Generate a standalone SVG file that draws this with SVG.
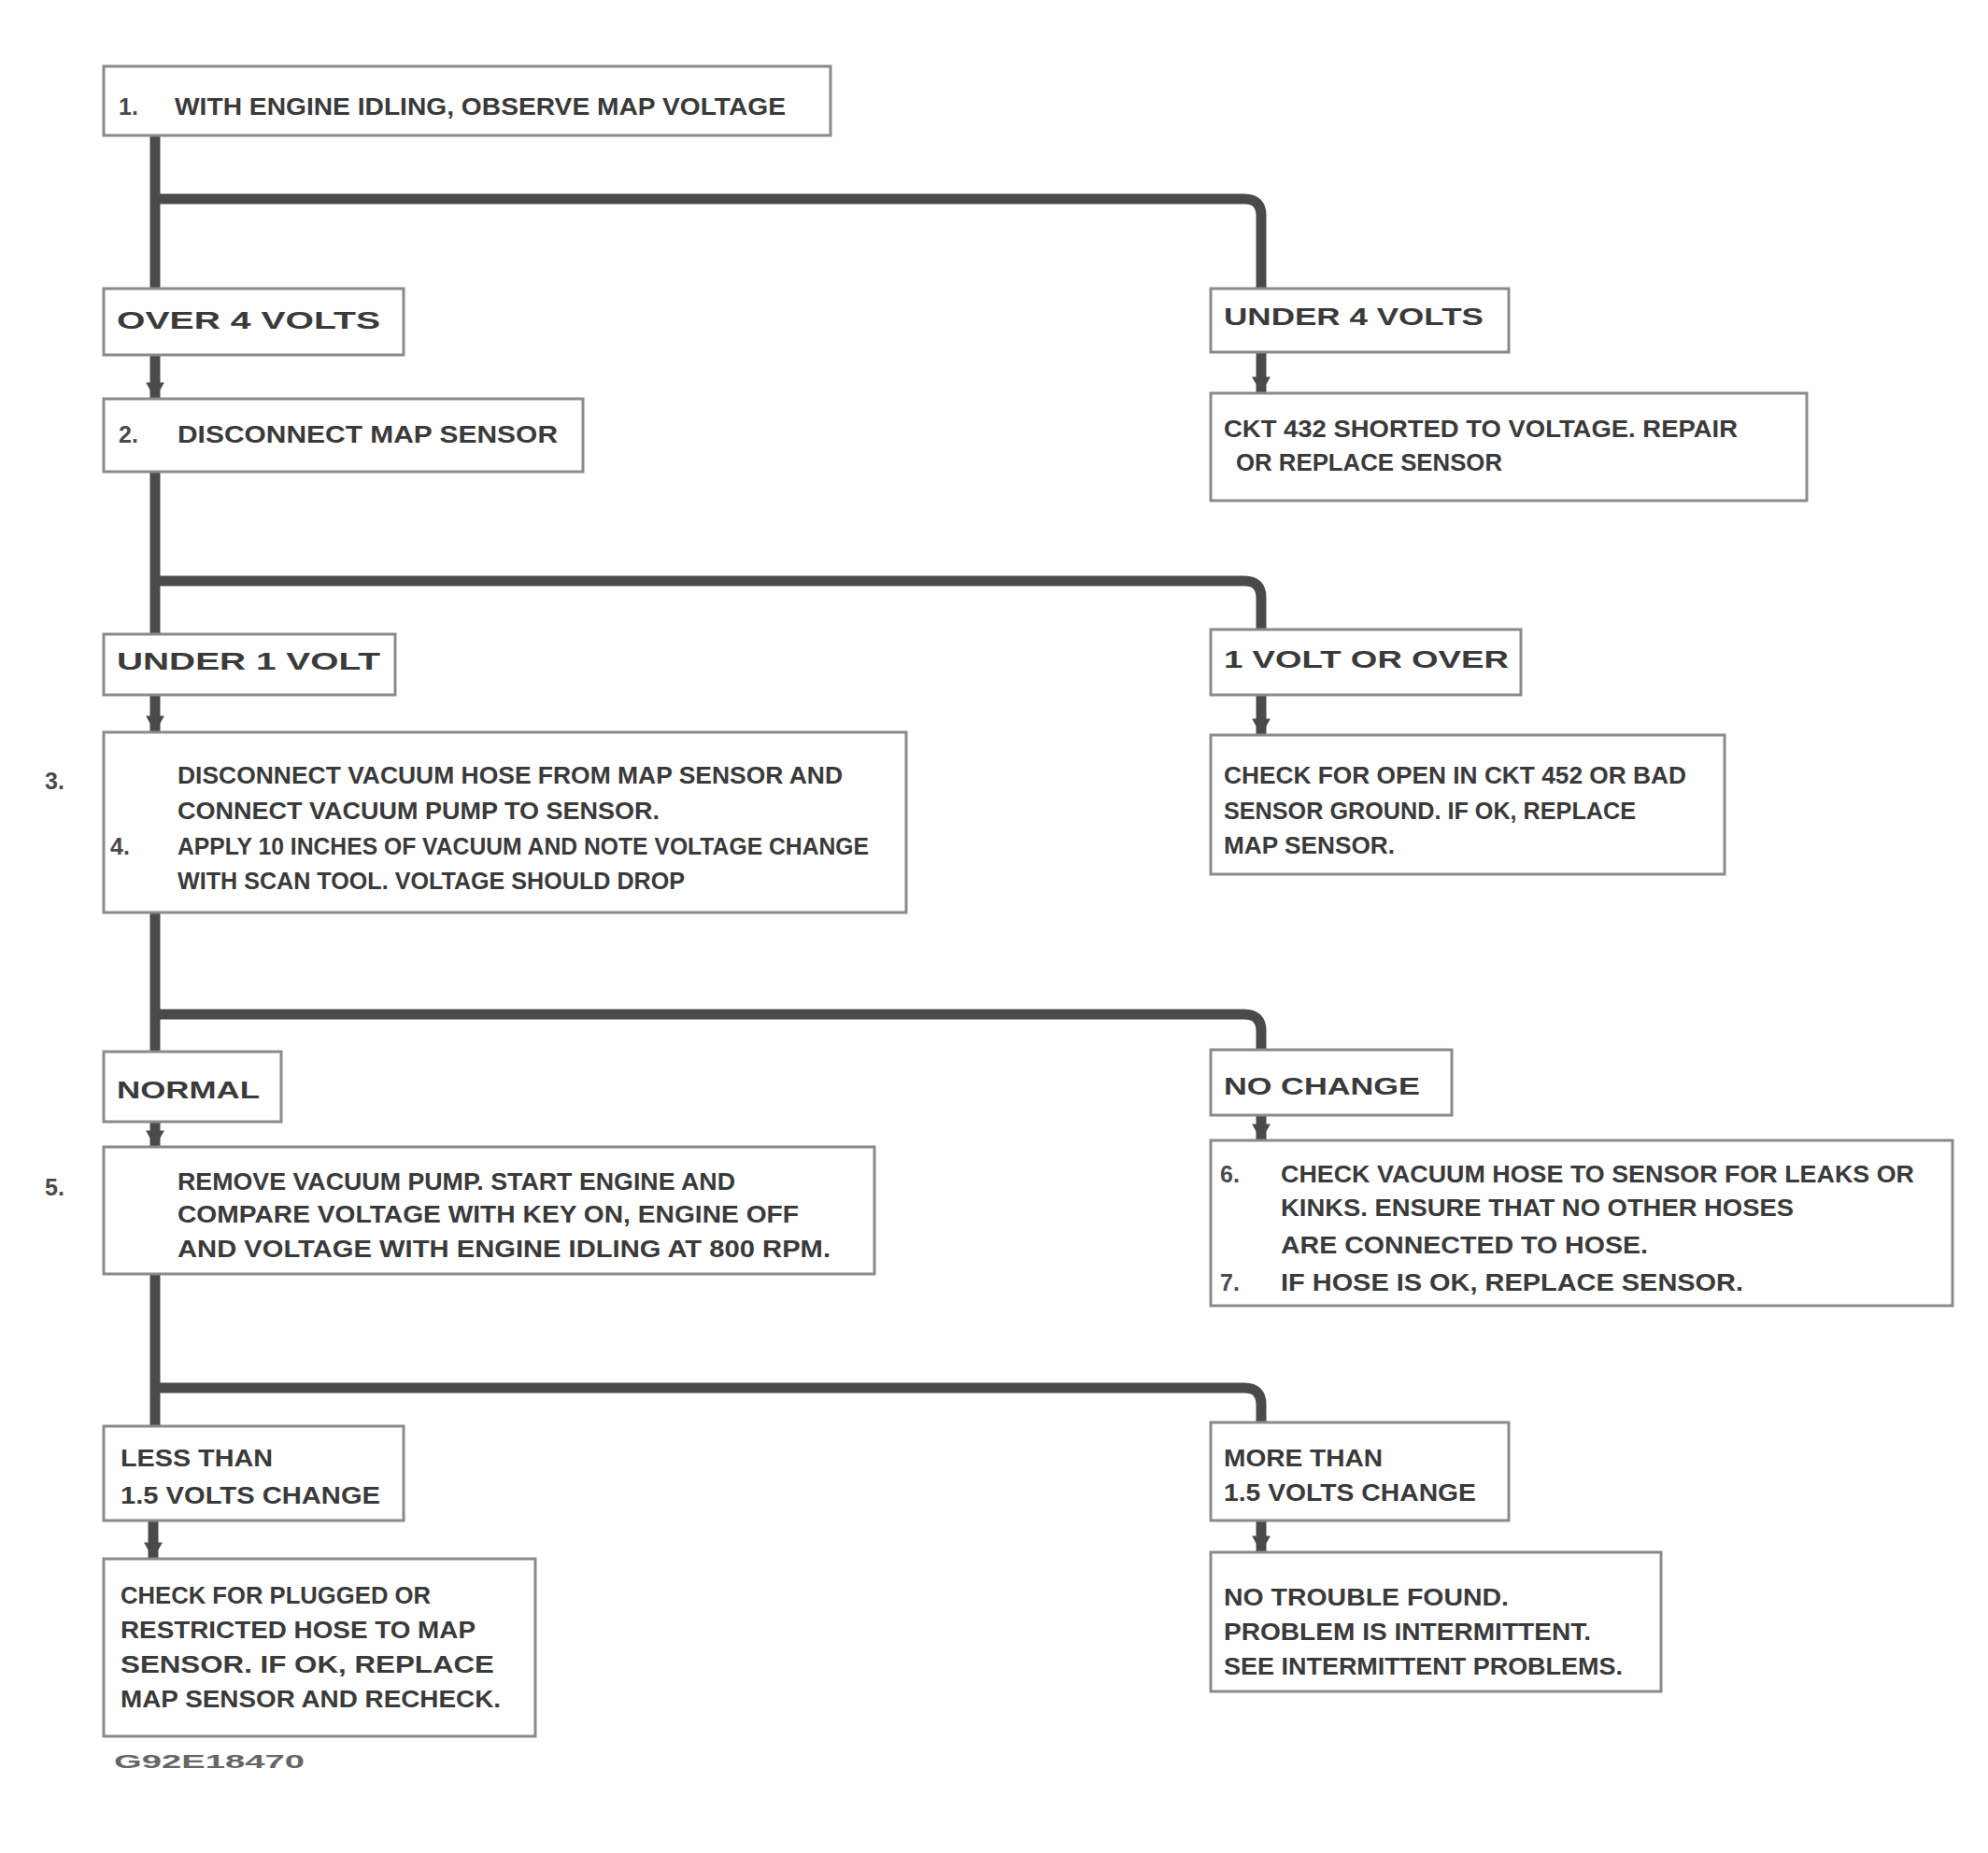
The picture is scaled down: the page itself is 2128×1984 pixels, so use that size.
<svg xmlns="http://www.w3.org/2000/svg" width="2128" height="1984" viewBox="0 0 2128 1984">
<defs>
<style>
.box{fill:none;stroke:#8a8a8a;stroke-width:3}
.t{font-family:"Liberation Sans",Arial,sans-serif;font-weight:bold;font-size:25px;fill:#3a3a3a}
.n{font-family:"Liberation Sans",Arial,sans-serif;font-weight:bold;font-size:25px;fill:#4a4a4a}
.c{fill:none;stroke:#4a4a4a;stroke-width:11;stroke-linejoin:round}
.a{fill:none;stroke:#4a4a4a;stroke-width:11}
.f{font-family:"Liberation Sans",Arial,sans-serif;font-weight:bold;font-size:20px;fill:#666}
</style>
<marker id="ah" markerWidth="1.6" markerHeight="1.8" refX="1.6" refY="0.9" orient="auto" markerUnits="strokeWidth"><path d="M0,0 L1.6,0.9 L0,1.8 Z" fill="#4a4a4a"/></marker>
</defs>
<rect width="2128" height="1984" fill="#ffffff"/>
<g id="connectors">
<path class="c" d="M166,145 V309"/>
<path class="c" d="M166,213 H1332 Q1350,213 1350,231 V309"/>
<path class="a" d="M166,381 V427" marker-end="url(#ah)"/>
<path class="a" d="M1350,378 V421" marker-end="url(#ah)"/>
<path class="c" d="M166,505 V679"/>
<path class="c" d="M166,622 H1332 Q1350,622 1350,640 V674"/>
<path class="a" d="M166,745 V784" marker-end="url(#ah)"/>
<path class="a" d="M1350,745 V787" marker-end="url(#ah)"/>
<path class="c" d="M166,977 V1126"/>
<path class="c" d="M166,1086 H1332 Q1350,1086 1350,1104 V1124"/>
<path class="a" d="M166,1202 V1228" marker-end="url(#ah)"/>
<path class="a" d="M1350,1195 V1221" marker-end="url(#ah)"/>
<path class="c" d="M166,1364 V1527"/>
<path class="c" d="M166,1486 H1332 Q1350,1486 1350,1504 V1523"/>
<path class="a" d="M164,1629 V1669" marker-end="url(#ah)"/>
<path class="a" d="M1350,1629 V1662" marker-end="url(#ah)"/>
</g>
<g id="n1"><rect class="box" x="111" y="71" width="778" height="74"/>
<text class="n" x="127" y="123">1.</text>
<text class="t" x="187" y="123" textLength="654" lengthAdjust="spacingAndGlyphs">WITH ENGINE IDLING, OBSERVE MAP VOLTAGE</text></g>
<g id="nA"><rect class="box" x="111" y="309" width="321" height="71"/>
<text class="t" x="125" y="352" textLength="282" lengthAdjust="spacingAndGlyphs">OVER 4 VOLTS</text></g>
<g id="nB"><rect class="box" x="1296" y="309" width="319" height="68"/>
<text class="t" x="1310" y="348" textLength="278" lengthAdjust="spacingAndGlyphs">UNDER 4 VOLTS</text></g>
<g id="nC"><rect class="box" x="111" y="427" width="513" height="78"/>
<text class="n" x="127" y="474">2.</text>
<text class="t" x="190" y="474" textLength="407" lengthAdjust="spacingAndGlyphs">DISCONNECT MAP SENSOR</text></g>
<g id="nD"><rect class="box" x="1296" y="421" width="638" height="115"/>
<text class="t" x="1310" y="468" textLength="550" lengthAdjust="spacingAndGlyphs">CKT 432 SHORTED TO VOLTAGE. REPAIR</text>
<text class="t" x="1323" y="504" textLength="285" lengthAdjust="spacingAndGlyphs">OR REPLACE SENSOR</text></g>
<g id="nE"><rect class="box" x="111" y="679" width="312" height="65"/>
<text class="t" x="125" y="717" textLength="282" lengthAdjust="spacingAndGlyphs">UNDER 1 VOLT</text></g>
<g id="nF"><rect class="box" x="1296" y="674" width="332" height="70"/>
<text class="t" x="1310" y="715" textLength="305" lengthAdjust="spacingAndGlyphs">1 VOLT OR OVER</text></g>
<g id="nG"><rect class="box" x="111" y="784" width="859" height="193"/>
<text class="n" x="48" y="845" font-size="30">3.</text>
<text class="n" x="118" y="915">4.</text>
<text class="t" x="190" y="839" textLength="712" lengthAdjust="spacingAndGlyphs">DISCONNECT VACUUM HOSE FROM MAP SENSOR AND</text>
<text class="t" x="190" y="877" textLength="516" lengthAdjust="spacingAndGlyphs">CONNECT VACUUM PUMP TO SENSOR.</text>
<text class="t" x="190" y="915" textLength="740" lengthAdjust="spacingAndGlyphs">APPLY 10 INCHES OF VACUUM AND NOTE VOLTAGE CHANGE</text>
<text class="t" x="190" y="952" textLength="543" lengthAdjust="spacingAndGlyphs">WITH SCAN TOOL. VOLTAGE SHOULD DROP</text></g>
<g id="nH"><rect class="box" x="1296" y="787" width="550" height="149"/>
<text class="t" x="1310" y="839" textLength="495" lengthAdjust="spacingAndGlyphs">CHECK FOR OPEN IN CKT 452 OR BAD</text>
<text class="t" x="1310" y="877" textLength="441" lengthAdjust="spacingAndGlyphs">SENSOR GROUND. IF OK, REPLACE</text>
<text class="t" x="1310" y="914" textLength="183" lengthAdjust="spacingAndGlyphs">MAP SENSOR.</text></g>
<g id="nI"><rect class="box" x="111" y="1126" width="190" height="75"/>
<text class="t" x="125" y="1176" textLength="153" lengthAdjust="spacingAndGlyphs">NORMAL</text></g>
<g id="nJ"><rect class="box" x="1296" y="1124" width="258" height="70"/>
<text class="t" x="1310" y="1172" textLength="210" lengthAdjust="spacingAndGlyphs">NO CHANGE</text></g>
<g id="nK"><rect class="box" x="111" y="1228" width="825" height="136"/>
<text class="n" x="48" y="1280" font-size="30">5.</text>
<text class="t" x="190" y="1274" textLength="597" lengthAdjust="spacingAndGlyphs">REMOVE VACUUM PUMP. START ENGINE AND</text>
<text class="t" x="190" y="1309" textLength="665" lengthAdjust="spacingAndGlyphs">COMPARE VOLTAGE WITH KEY ON, ENGINE OFF</text>
<text class="t" x="190" y="1346" textLength="699" lengthAdjust="spacingAndGlyphs">AND VOLTAGE WITH ENGINE IDLING AT 800 RPM.</text></g>
<g id="nL"><rect class="box" x="1296" y="1221" width="794" height="177"/>
<text class="n" x="1306" y="1266">6.</text>
<text class="n" x="1306" y="1382">7.</text>
<text class="t" x="1371" y="1266" textLength="678" lengthAdjust="spacingAndGlyphs">CHECK VACUUM HOSE TO SENSOR FOR LEAKS OR</text>
<text class="t" x="1371" y="1302" textLength="549" lengthAdjust="spacingAndGlyphs">KINKS. ENSURE THAT NO OTHER HOSES</text>
<text class="t" x="1371" y="1342" textLength="393" lengthAdjust="spacingAndGlyphs">ARE CONNECTED TO HOSE.</text>
<text class="t" x="1371" y="1382" textLength="495" lengthAdjust="spacingAndGlyphs">IF HOSE IS OK, REPLACE SENSOR.</text></g>
<g id="nM"><rect class="box" x="111" y="1527" width="321" height="101"/>
<text class="t" x="129" y="1570" textLength="163" lengthAdjust="spacingAndGlyphs">LESS THAN</text>
<text class="t" x="129" y="1610" textLength="278" lengthAdjust="spacingAndGlyphs">1.5 VOLTS CHANGE</text></g>
<g id="nN"><rect class="box" x="1296" y="1523" width="319" height="105"/>
<text class="t" x="1310" y="1570" textLength="170" lengthAdjust="spacingAndGlyphs">MORE THAN</text>
<text class="t" x="1310" y="1607" textLength="270" lengthAdjust="spacingAndGlyphs">1.5 VOLTS CHANGE</text></g>
<g id="nO"><rect class="box" x="111" y="1669" width="462" height="190"/>
<text class="t" x="129" y="1717" textLength="332" lengthAdjust="spacingAndGlyphs">CHECK FOR PLUGGED OR</text>
<text class="t" x="129" y="1754" textLength="380" lengthAdjust="spacingAndGlyphs">RESTRICTED HOSE TO MAP</text>
<text class="t" x="129" y="1791" textLength="400" lengthAdjust="spacingAndGlyphs">SENSOR. IF OK, REPLACE</text>
<text class="t" x="129" y="1828" textLength="407" lengthAdjust="spacingAndGlyphs">MAP SENSOR AND RECHECK.</text></g>
<g id="nP"><rect class="box" x="1296" y="1662" width="482" height="149"/>
<text class="t" x="1310" y="1719" textLength="305" lengthAdjust="spacingAndGlyphs">NO TROUBLE FOUND.</text>
<text class="t" x="1310" y="1756" textLength="393" lengthAdjust="spacingAndGlyphs">PROBLEM IS INTERMITTENT.</text>
<text class="t" x="1310" y="1793" textLength="427" lengthAdjust="spacingAndGlyphs">SEE INTERMITTENT PROBLEMS.</text></g>
<text class="f" x="122" y="1893" textLength="204" lengthAdjust="spacingAndGlyphs">G92E18470</text>
</svg>
